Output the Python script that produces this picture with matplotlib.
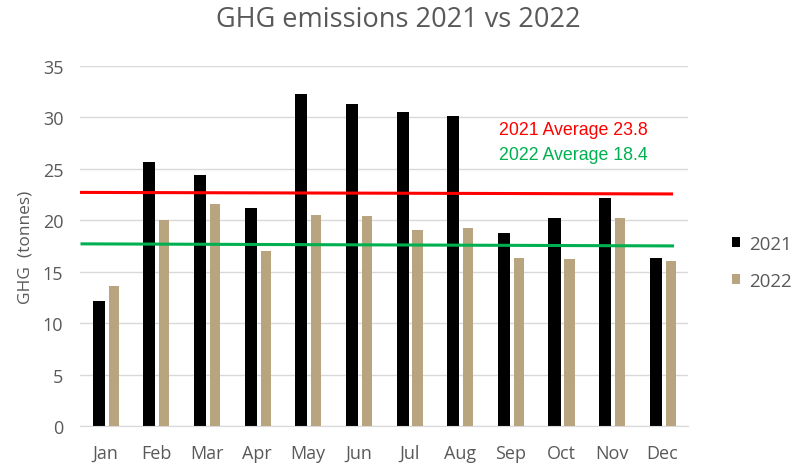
# GHG emissions 2021 vs 2022 - bar chart with averages
import numpy as np
from matplotlib import pyplot as plt

meses = ['Jan', 'Feb', 'Mar', 'Apr', 'May', 'Jun', 'Jul', 'Aug', 'Sep', 'Oct', 'Nov', 'Dec']
ghg_2021 = [12.1, 25.7, 24.4, 21.2, 32.3, 31.3, 30.5, 30.1, 18.8, 20.2, 22.2, 16.3]
ghg_2022 = [13.6, 20.0, 21.6, 17.0, 20.5, 20.4, 19.0, 19.2, 16.3, 16.2, 20.2, 16.0]
# average lines as drawn (endpoints in category units)
media_x_2021 = [-0.5, 11.18]
media_y_2021 = [22.7, 22.55]
media_x_2022 = [-0.46, 11.2]
media_y_2022 = [17.7, 17.5]
texto_2021 = '2021 Average 23.8'
texto_2022 = '2022 Average 18.4'

cinza = '#595959'
x = np.arange(len(meses))

fig = plt.figure(figsize=(7.96, 4.64), dpi=100)
ax = fig.add_axes([0.1005, 0.0797, 0.7635, 0.7763])

ax.bar(x - 0.13, ghg_2021, width=0.24, color='black', label='2021', zorder=2)
ax.bar(x + 0.165, ghg_2022, width=0.2, color='#b8a47e', label='2022', zorder=2)

ax.plot(media_x_2021, media_y_2021, color='#ff0000', linewidth=2.2, zorder=3)
ax.plot(media_x_2022, media_y_2022, color='#00b050', linewidth=2.2, zorder=3)

ax.text(7.77, 28.8, texto_2021, color='#ff0000', fontsize=12.8, family='Liberation Sans', va='center')
ax.text(7.77, 26.35, texto_2022, color='#00b050', fontsize=12.8, family='Liberation Sans', va='center')

ax.set_xlim(-0.5, 11.5)
ax.set_ylim(0, 35)
ax.set_yticks(range(0, 36, 5))
ax.set_xticks(x)
ax.set_xticklabels(meses)
ax.grid(axis='y', color='#d9d9d9', linewidth=1, zorder=0)
ax.set_axisbelow(True)
for lado in ['top', 'right', 'left']:
    ax.spines[lado].set_visible(False)
ax.spines['bottom'].set_color('#d9d9d9')
ax.tick_params(axis='both', length=0, labelsize=13, labelcolor=cinza)
ax.tick_params(axis='y', pad=12)
ax.tick_params(axis='x', pad=13)
for rotulo in ax.get_xticklabels() + ax.get_yticklabels():
    rotulo.set_family('Open Sans')

ax.set_ylabel('GHG  (tonnes)', fontsize=12.5, color=cinza, family='Open Sans', labelpad=7)
fig.suptitle('GHG emissions 2021 vs 2022', fontsize=19.5, color=cinza, family='Open Sans', y=0.988)

leg = ax.legend(loc='center left', bbox_to_anchor=(1.045, 0.455), frameon=False,
                handlelength=0.45, handleheight=0.45, handletextpad=0.45, labelspacing=1.0,
                prop={'family': 'Open Sans', 'size': 13.5})
for t in leg.get_texts():
    t.set_color(cinza)

plt.savefig('out.png', dpi=100)
